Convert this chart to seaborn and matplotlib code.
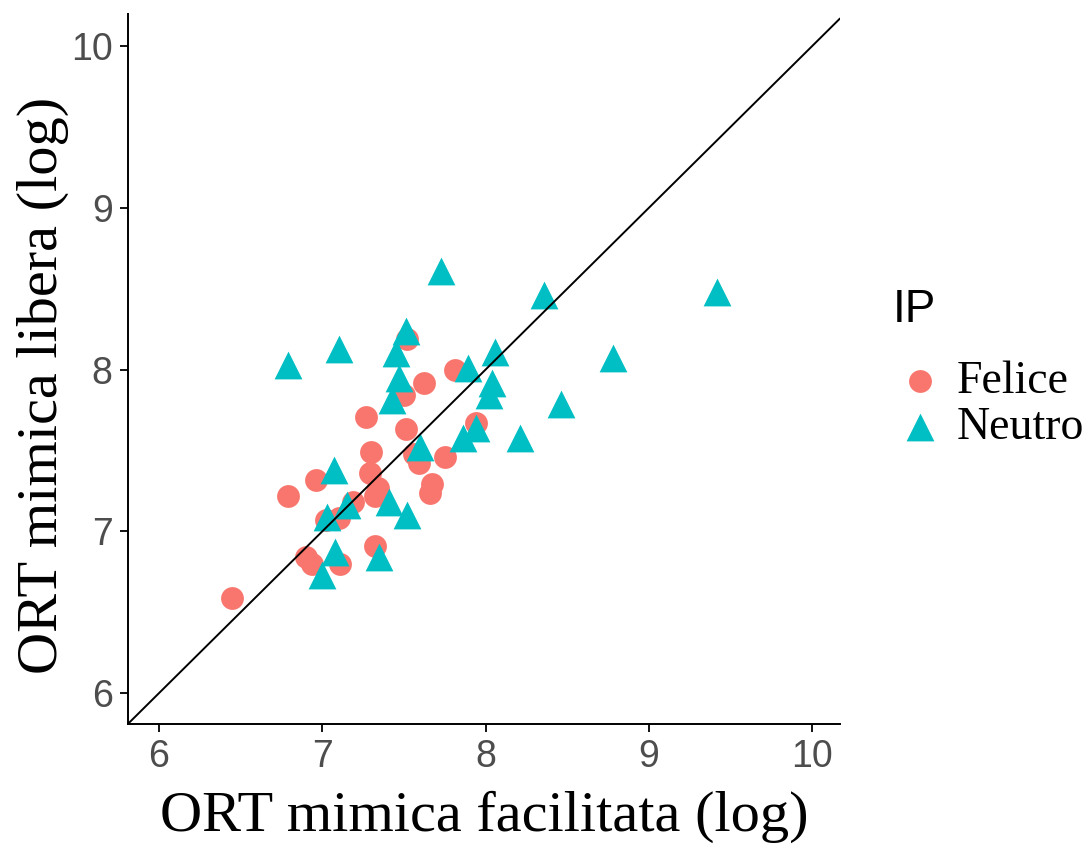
import pandas as pd
import matplotlib.pyplot as plt
import seaborn as sns

# ORT values (log)
felice_x = [6.45, 6.79, 6.96, 7.27, 7.51, 7.30, 7.29, 7.34, 7.32, 7.19, 7.02, 7.10, 7.56,
            7.59, 7.75, 7.67, 7.66, 7.32, 6.90, 6.94, 7.11, 7.94, 7.52, 7.81, 7.62, 7.50]
felice_y = [6.59, 7.22, 7.32, 7.71, 7.63, 7.49, 7.36, 7.27, 7.22, 7.18, 7.07, 7.08, 7.48,
            7.42, 7.46, 7.29, 7.24, 6.91, 6.84, 6.80, 6.80, 7.67, 8.19, 8.00, 7.92, 7.84]
neutro_x = [7.73, 8.36, 6.79, 7.10, 7.51, 7.45, 7.89, 8.06, 7.47, 8.04, 8.02, 7.43, 7.86, 7.94,
            8.21, 9.42, 8.78, 8.46, 7.07, 7.41, 7.52, 7.60, 7.15, 7.03, 7.08, 7.35, 7.00]
neutro_y = [8.61, 8.46, 8.03, 8.13, 8.24, 8.10, 8.01, 8.11, 7.95, 7.92, 7.84, 7.81, 7.58, 7.64,
            7.58, 8.48, 8.07, 7.79, 7.38, 7.18, 7.10, 7.52, 7.16, 7.09, 6.87, 6.84, 6.73]
groups = ["Felice", "Neutro"]
ticks = [6, 7, 8, 9, 10]

df_felice = pd.DataFrame({"x": felice_x, "y": felice_y})
df_neutro = pd.DataFrame({"x": neutro_x, "y": neutro_y})

sns.set_style("white")
plt.rcParams["font.family"] = ["Liberation Sans", "DejaVu Sans"]
serif = ["Liberation Serif", "DejaVu Serif"]

fig = plt.figure(figsize=(10.88, 8.5), dpi=100)
ax = fig.add_axes([0.1176, 0.148, 0.6544, 0.8355])

# ggplot default hue colours; triangles are drawn a bit bigger as in ggplot
sns.scatterplot(data=df_felice, x="x", y="y", color="#F8766D", marker="o",
                s=270, linewidth=0, ax=ax, label=groups[0], zorder=2)
sns.scatterplot(data=df_neutro, x="x", y="y", color="#00BFC4", marker="^",
                s=400, linewidth=0, ax=ax, label=groups[1], zorder=2)

# identity line
ax.axline((6, 6), slope=1, color="black", lw=1.4, zorder=3)

ax.set_xlim(5.81, 10.17)
ax.set_ylim(5.808, 10.198)
ax.set_xticks(ticks)
ax.set_yticks(ticks)
ax.tick_params(axis="both", labelsize=27, labelcolor="#4D4D4D", color="black",
               length=6, width=1.3, direction="out", left=True, bottom=True, pad=5)
for side in ["top", "right"]:
    ax.spines[side].set_visible(False)
for side in ["left", "bottom"]:
    ax.spines[side].set_color("black")
    ax.spines[side].set_linewidth(1.4)

ax.set_xlabel("ORT mimica facilitata (log)", fontsize=42, family=serif,
              color="black", labelpad=11)
ax.set_ylabel("ORT mimica libera (log)", fontsize=42, family=serif, color="black")
ax.yaxis.set_label_coords(-0.083, 0.477)

handles, labels = ax.get_legend_handles_labels()
ax.get_legend().remove()
fig.text(0.8208, 0.621, "IP", fontsize=33, color="black", va="baseline", ha="left")
leg = fig.legend(handles, labels, loc="center left",
                 bbox_to_anchor=(0.829, 0.524), frameon=False,
                 prop={"family": serif, "size": 33}, markerscale=1.0,
                 handlelength=0.8, handletextpad=0.4, labelspacing=0.07,
                 borderpad=0, borderaxespad=0)
for t in leg.get_texts():
    t.set_color("black")

fig.savefig("out.png", dpi=100)
